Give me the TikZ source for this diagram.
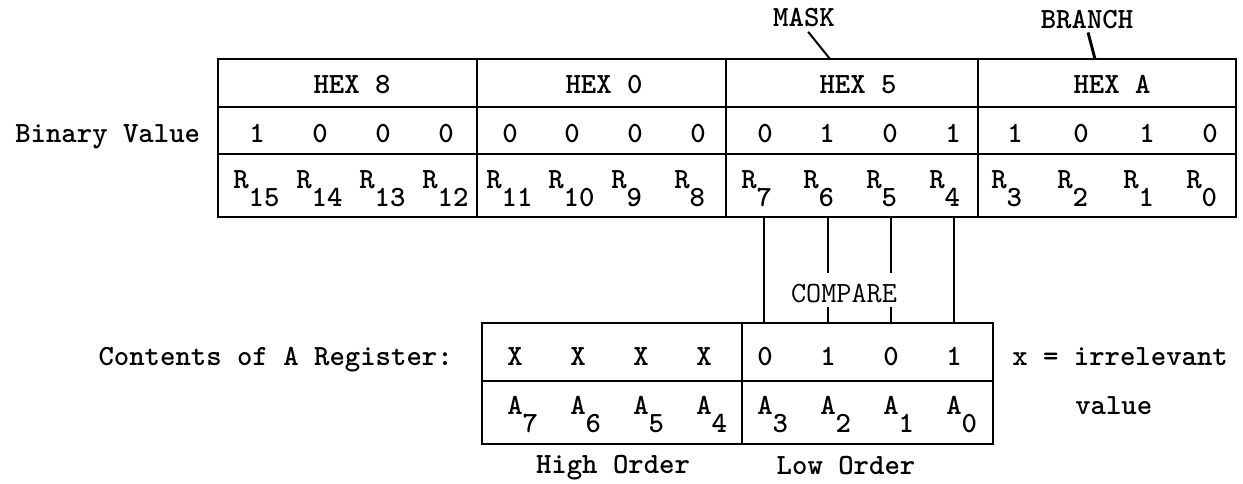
\documentclass[tikz,border=0pt]{standalone}
\usepackage{fontspec}
\newcommand{\regsub}[2]{#1\raisebox{-13.5pt}{#2}}
\begin{document}
\begin{tikzpicture}[x=0.75pt,y=-0.75pt,
  frame/.style={line width=2pt},
  rule/.style={line width=1.5pt},
  conn/.style={line width=1.5pt},
  txt/.style={font=\fontsize{22}{26}\selectfont\ttfamily\bfseries, inner sep=0pt, anchor=base},
  lbl/.style={txt, anchor=base west},
  thin/.style={font=\fontsize{22}{26}\selectfont\ttfamily, inner sep=0pt, anchor=base}]
\useasboundingbox (0,0) rectangle (1243,483);

% ---------- top register table ----------
\draw[frame] (218,59) rectangle (1236,217);
\draw[rule] (218,107) -- (1236,107);
\draw[rule] (218,154) -- (1236,154);
\foreach \x in {477,726,978} \draw[rule] (\x,59) -- (\x,217);

\node[txt] (hex8) at (352,93) {HEX 8};
\node[txt] (hex0) at (604,93) {HEX 0};
\node[txt] (hex5) at (858,93) {HEX 5};
\node[txt] (hexA) at (1112,93) {HEX A};

\foreach \x/\v/\n in {257/1/15,320/0/14,383/0/13,446/0/12,
                      510/0/11,572/0/10,635/0/9,698/0/8,
                      765/0/7,827/1/6,890/0/5,953/1/4,
                      1015/1/3,1081/0/2,1147/1/1,1210/0/0}{
  \node[txt] (b\n) at (\x,142) {\v};
  \node[lbl] (r\n) at (\x-24,188) {\regsub{R}{\n}};
}

\node[lbl] (binval) at (15,142) {Binary Value};

% labels above
\node[txt] (mask) at (804,26) {MASK};
\node[txt] (branch) at (1087,28) {BRANCH};
\coordinate (maskfoot) at (830,59);
\coordinate (branchfoot) at (1095,59);
\draw[conn, shorten <=5pt] (mask.south) -- (maskfoot);
\draw[conn, line width=2.2pt, shorten <=3pt] (branch.south) -- (branchfoot);

% ---------- A register ----------
\draw[frame] (482,323) rectangle (993,444);
\draw[rule] (482,381) -- (993,381);
\draw[rule] (742,323) -- (742,444);

\foreach \x/\v/\n in {515/X/7,578/X/6,641/X/5,704/X/4,
                      765/0/3,828/1/2,891/0/1,954/1/0}{
  \node[txt] (x\n) at (\x,365) {\v};
  \node[lbl] (a\n) at (\x-8,414) {\regsub{A}{\n}};
}

\node[txt, anchor=base east] (contents) at (453,365) {Contents of A Register:};
\node[lbl] (irr) at (1012,365) {x = irrelevant};
\node[lbl] (irrval) at (1075,414) {value};
\node[txt] (high) at (613,473) {High Order};
\node[txt] (low) at (846,474) {Low Order};

% ---------- compare connectors ----------
\node[thin] (compare) at (844,302) {COMPARE};
\coordinate (t7) at (764,217); \coordinate (u7) at (764,323);
\coordinate (t6) at (828,217); \coordinate (c6) at (828,273);
\coordinate (d6) at (828,307); \coordinate (u6) at (828,323);
\coordinate (t5) at (891,217); \coordinate (c5) at (891,273);
\coordinate (d5) at (891,307); \coordinate (u5) at (891,323);
\coordinate (t4) at (954,217); \coordinate (u4) at (954,323);
\draw[conn] (t7) -- (u7);
\draw[conn] (t4) -- (u4);
\draw[conn] (t6) -- (c6);
\draw[conn] (d6) -- (u6);
\draw[conn] (t5) -- (c5);
\draw[conn] (d5) -- (u5);
\end{tikzpicture}
\end{document}
